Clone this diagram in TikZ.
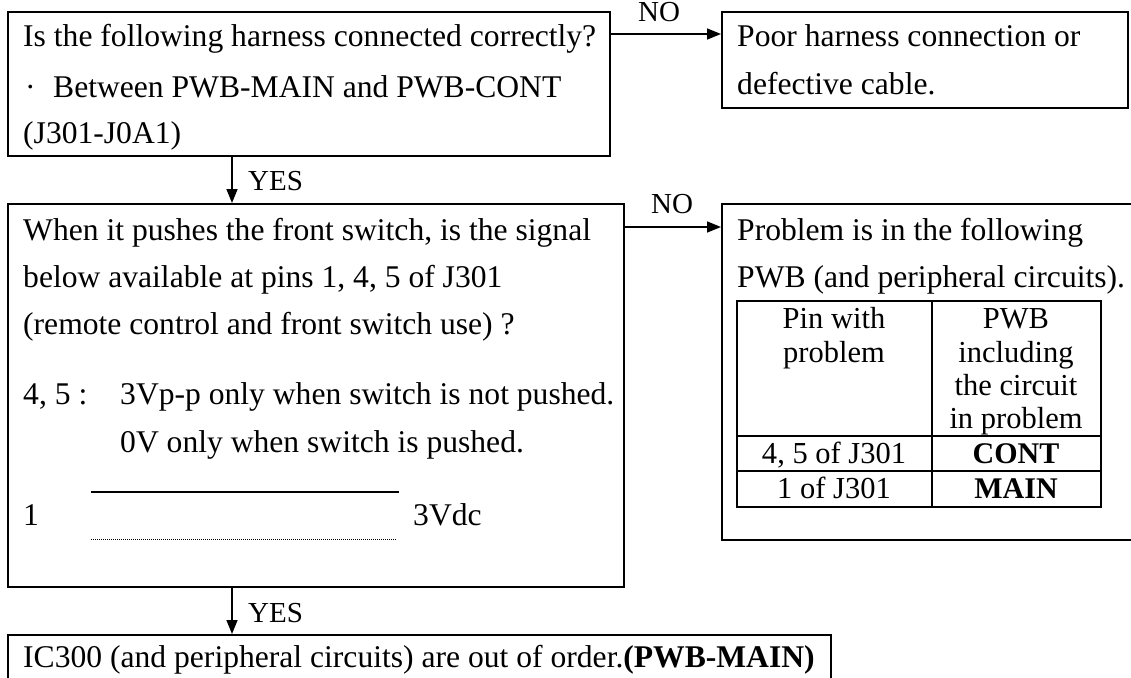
\documentclass[tikz,border=0pt]{standalone}
\usepackage{fontspec}
\setmainfont{Liberation Serif}
\usetikzlibrary{arrows.meta}
\tikzset{
  box/.style={draw, line width=1.8pt, inner sep=0pt, anchor=north west},
  txt/.style={anchor=base west, inner sep=0pt, font=\fontsize{31.6}{40}\selectfont},
  ctxt/.style={anchor=base, inner sep=0pt, font=\fontsize{30.5}{36}\selectfont},
  btxt/.style={anchor=base, inner sep=0pt, font=\fontsize{30}{36}\selectfont\bfseries},
  lbl/.style={anchor=base west, inner sep=0pt, font=\fontsize{29}{34}\selectfont},
  arr/.style={line width=1.5pt, -{Triangle[length=14pt,width=11pt]}},
  tline/.style={line width=1.8pt}
}
\begin{document}
\begin{tikzpicture}[x=1pt,y=-1pt]
\clip (0,0) rectangle (1131,677);
\fill[white] (0,0) rectangle (1131,677);
% boxes
\node[box, minimum width=602pt, minimum height=144pt] (b1) at (7,11) {};
\node[box, minimum width=406pt, minimum height=96pt] (poor) at (721,11) {};
\node[box, minimum width=616pt, minimum height=383pt] (b2) at (7,203) {};
\node[box, minimum width=440pt, minimum height=336pt] (b3) at (721,203) {};
\node[box, minimum width=823pt, minimum height=70pt] (b4) at (7,634) {};
% texts box 1
\node[txt] (t11) at (23,47) {Is the following harness connected correctly?};
\node[txt] (t12) at (25,97) {·};
\node[txt] (t13) at (53,97) {Between PWB-MAIN and PWB-CONT};
\node[txt] (t14) at (23,143) {(J301-J0A1)};
% poor
\node[txt] (p1) at (737,47) {Poor harness connection or};
\node[txt] (p2) at (737,94) {defective cable.};
% box 2
\node[txt] (t21) at (23,240) {When it pushes the front switch, is the signal};
\node[txt] (t22) at (23,287) {below available at pins 1, 4, 5 of J301};
\node[txt] (t23) at (23,334) {(remote control and front switch use) ?};
\node[txt] (t24) at (23,404) {4, 5 :};
\node[txt] (t25) at (120,404) {3Vp-p only when switch is not pushed.};
\node[txt] (t26) at (120,452) {0V only when switch is pushed.};
\node[txt] (t27) at (23,525) {1};
\node[txt] (t28) at (413,525) {3Vdc};
\coordinate (s1a) at (91,492);
\coordinate (s1b) at (399,492);
\coordinate (s2a) at (91,539);
\coordinate (s2b) at (397,539);
\draw[line width=1.5pt] (s1a) -- (s1b);
\draw[line width=0.9pt, dash pattern=on 1pt off 1pt] (s2a) -- (s2b);
% box 3
\node[txt] (t31) at (737,240) {Problem is in the following};
\node[txt] (t32) at (737,287) {PWB (and peripheral circuits).};
\node[box, tline, minimum width=364pt, minimum height=206pt] (tbl) at (736,300) {};
\draw[tline] (tbl.north west -| 932,0) -- (tbl.south west -| 932,0);
\draw[tline] (tbl.west |- 0,436) -- (tbl.east |- 0,436);
\draw[tline] (tbl.west |- 0,471) -- (tbl.east |- 0,471);
\node[ctxt] (h11) at (834,328) {Pin with};
\node[ctxt] (h12) at (834,362) {problem};
\node[ctxt] (h21) at (1016,328) {PWB};
\node[ctxt] (h22) at (1016,362) {including};
\node[ctxt] (h23) at (1016,395) {the circuit};
\node[ctxt] (h24) at (1016,428) {in problem};
\node[ctxt] (r11) at (834,463) {4, 5 of J301};
\node[ctxt] (r21) at (834,498) {1 of J301};
\node[btxt] (r12) at (1016,463) {CONT};
\node[btxt] (r22) at (1016,498) {MAIN};
% box 4
\node[txt] (t41) at (23,667) {IC300 (and peripheral circuits) are out of order.\textbf{(PWB-MAIN)}};
% connectors
\coordinate (y1) at (0,34);
\coordinate (y2) at (0,227);
\coordinate (xv) at (232,0);
\draw[arr] (b1.east |- y1) -- (poor.west |- y1);
\draw[arr] (b2.east |- y2) -- (b3.west |- y2);
\draw[arr] (b1.south -| xv) -- (b2.north -| xv);
\draw[arr] (b2.south -| xv) -- (b4.north -| xv);
% labels
\node[lbl] (no1) at (638,22) {NO};
\node[lbl] (no2) at (651,213) {NO};
\node[lbl] (yes1) at (248,190) {YES};
\node[lbl] (yes2) at (248,622) {YES};
\end{tikzpicture}
\end{document}
